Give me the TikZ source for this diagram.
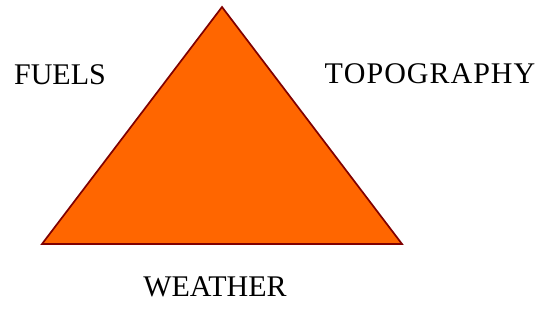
\documentclass[tikz,border=0pt]{standalone}
\usepackage{fontspec}
\setmainfont{Liberation Serif}
\usetikzlibrary{positioning}
\definecolor{firefill}{HTML}{FF6600}
\definecolor{fireedge}{HTML}{800000}

\begin{document}
\begin{tikzpicture}[
   x=1pt, y=-1pt,
   factor/.style = {anchor=base, inner sep=0pt, font=\fontsize{30}{36}\selectfont}]
  \useasboundingbox (0,0) rectangle (539,326);
  \coordinate (apex)  at (222,7);
  \coordinate (left)  at (42,244);
  \coordinate (right) at (402,244);
  \filldraw[fill=firefill, draw=fireedge, line width=1.7pt, line join=miter]
       (apex) -- (left) -- (right) -- cycle;

  \node[factor] (fuels)   at (60,85)   {FUELS};
  \node[factor] (topo)    at (430,84)  {T\kern1ptO\kern1ptP\kern1ptO\kern1ptG\kern1ptR\kern1ptA\kern1ptP\kern1ptH\kern1ptY};
  \node[factor] (weather) at (215,297) {WEATHER};
\end{tikzpicture}
\end{document}
